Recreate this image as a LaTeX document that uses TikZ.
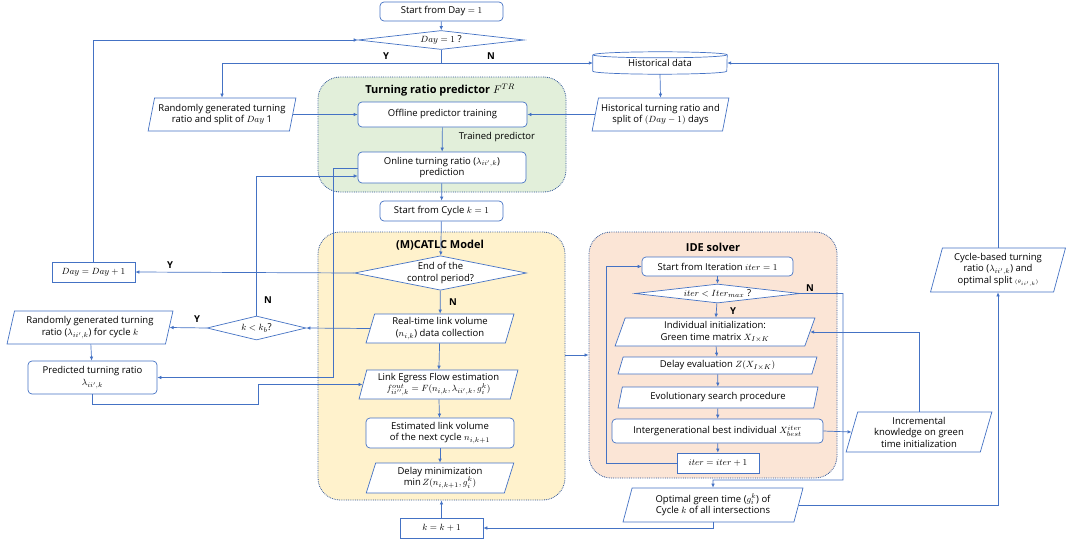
\documentclass[tikz,border=0pt]{standalone}
\usepackage{fontspec}
\setmainfont{Open Sans}
\usetikzlibrary{shapes.geometric,arrows.meta}
\definecolor{lineblue}{RGB}{68,114,196}
\definecolor{edgeblue}{RGB}{47,85,151}
\definecolor{greenbg}{RGB}{226,239,218}
\definecolor{yellowbg}{RGB}{255,242,204}
\definecolor{peachbg}{RGB}{251,229,214}
\tikzset{
  every node/.style={font=\fontsize{9.5}{11.5}\selectfont},
  wire/.style={draw=lineblue, line width=0.7pt},
  arr/.style={wire, -{Latex[length=4pt,width=3.6pt]}},
  box/.style={draw=lineblue, fill=white, line width=0.7pt, align=center, inner sep=1pt},
  rbox/.style={box, rounded corners=4pt},
  para/.style={box, trapezium, trapezium left angle=75, trapezium right angle=105, trapezium stretches=true},
  decide/.style={box, diamond, inner sep=0pt},
  region/.style={draw=edgeblue, densely dotted, line width=0.8pt, rounded corners=22pt},
  title/.style={font=\fontsize{11}{13}\selectfont\bfseries},
  yn/.style={font=\fontsize{9.5}{11}\selectfont\bfseries}
}
\begin{document}
\begin{tikzpicture}[x=1pt, y=-1pt]
\useasboundingbox (0,0) rectangle (1067,543);
% regions
\node[region, fill=greenbg, minimum width=248, minimum height=115] (predictor) at (442,134.5) {};
\node[region, fill=yellowbg, minimum width=247, minimum height=268] (catlc) at (441.5,366) {};
\node[region, fill=peachbg, minimum width=248, minimum height=246] (ide) at (713,355) {};
\node[title] (predtitle) at (440,90) {Turning ratio predictor $F^{TR}$};
\node[title] (catlctitle) at (440,245) {(M)CATLC Model};
\node[title] (idetitle) at (713,247) {IDE solver};
%
% day loop
\node[rbox, minimum width=123, minimum height=19] (start) at (441.5,11.5) {Start from Day $=1$};
\node[decide, aspect=8, minimum width=166, minimum height=19] (dayq) at (441,40) {$Day=1$ ?};
\coordinate (dayfork) at (441,63);
\node[minimum width=134, minimum height=22, inner sep=0pt] (hist) at (660,63) {Historical data};
\draw[wire] ([yshift=-3pt]hist.north west) -- ([yshift=3pt]hist.south west)
  arc[start angle=180, end angle=360, x radius=67pt, y radius=3pt] -- ([yshift=-3pt]hist.north east)
  arc[start angle=0, end angle=180, x radius=67pt, y radius=3pt];
\draw[wire] ([yshift=-3pt]hist.north west) arc[start angle=180, end angle=360, x radius=67pt, y radius=3pt];
\node[para, minimum width=137, minimum height=33] (histsplit) at (660.5,114.5) {Historical turning ratio and\\ split of $(Day-1)$ days};
\node[para, minimum width=148, minimum height=33] (randday) at (222,114.5) {Randomly generated turning\\ ratio and split of $Day$ 1};
\node[rbox, minimum width=169, minimum height=25] (offline) at (442.5,114.5) {Offline predictor training};
\node[rbox, minimum width=168, minimum height=31] (online) at (442,167.5) {Online turning ratio ($\lambda_{ii',k}$)\\ prediction};
\node (trained) at (497,137) {Trained predictor};
\node[rbox, minimum width=123, minimum height=20] (cycle) at (441.5,211) {Start from Cycle $k=1$};
%
% cycle loop
\node[decide, aspect=5, minimum width=165, minimum height=32] (endq) at (440.5,273) {End of the\\ control period?};
\node[box, minimum width=83, minimum height=20] (dayinc) at (93.5,272) {$Day=Day+1$};
\node[decide, aspect=4, minimum width=99, minimum height=24] (kq) at (256.5,328) {$k<k_b$?};
\node[para, minimum width=166, minimum height=33] (randcyc) at (90,327.5) {Randomly generated turning\\ ratio ($\lambda_{ii',k}$) for cycle $k$};
\node[rbox, minimum width=129, minimum height=33] (predtr) at (92.5,377.5) {Predicted turning ratio\\ $\lambda_{ii',k}$};
\node[para, minimum width=148, minimum height=29] (realtime) at (440,328.5) {Real-time link volume\\ ($n_{i,k}$) data collection};
\node[para, minimum width=159, minimum height=29] (egress) at (438.5,384.5) {Link Egress Flow estimation\\ $f^{out}_{ii'',k}=F(n_{i,k},\lambda_{ii',k},g_i^k)$};
\node[rbox, minimum width=148, minimum height=30] (estvol) at (440,433) {Estimated link volume\\ of the next cycle $n_{i,k+1}$};
\node[para, minimum width=148, minimum height=30] (delaymin) at (440,478) {Delay minimization\\ $\min Z(n_{i,k+1},g_i^k)$};
\node[box, minimum width=83, minimum height=20] (kinc) at (441.5,528) {$k=k+1$};
%
% solver
\node[rbox, minimum width=151, minimum height=19] (iterstart) at (717.5,266.5) {Start from Iteration $iter=1$};
\node[decide, aspect=8, minimum width=165, minimum height=19] (iterq) at (717.5,293.5) {$iter<Iter_{max}$ ?};
\node[para, minimum width=200, minimum height=28] (indiv) at (715,332) {Individual initialization:\\ Green time matrix $X_{I\times K}$};
\node[para, minimum width=199, minimum height=17] (delayev) at (717.5,365.5) {Delay evaluation $Z(X_{I\times K})$};
\node[para, minimum width=200, minimum height=21] (evo) at (718,397.5) {Evolutionary search procedure};
\node[rbox, minimum width=211, minimum height=24] (best) at (717.5,431) {Intergenerational best individual $X^{iter}_{best}$};
\node[box, minimum width=82, minimum height=20] (iterinc) at (718,463) {$iter=iter+1$};
\node[para, minimum width=146, minimum height=40] (incr) at (919,432) {Incremental\\ knowledge on green\\ time initialization};
\node[para, minimum width=180, minimum height=34] (optimal) at (713,505) {Optimal green time ($g_i^k$) of\\ Cycle $k$ of all intersections};
\node[para, minimum width=135, minimum height=44] (cycsplit) at (998,270) {Cycle-based turning\\ ratio ($\lambda_{ii',k}$) and\\ optimal split {\tiny$(\theta_{ii',k})$}};
%
% labels
\node[yn] (y1) at (386,56) {Y};
\node[yn] (n1) at (491,56) {N};
\node[yn] (y2) at (170,265) {Y};
\node[yn] (n2) at (453,302) {N};
\node[yn] (n3) at (268,300) {N};
\node[yn] (y3) at (197,319) {Y};
\node[yn] (n4) at (810,288) {N};
\node[yn] (y4) at (733,311) {Y};
%
% connectors
\draw[arr] (start) -- (dayq);
\draw[arr] (dayinc.north) |- (dayq.west);
\draw[wire] (dayq.south) -- (dayfork);
\draw[arr] (dayfork) -| (randday.north);
\draw[arr] (dayfork) -- (hist.west);
\draw[arr] (hist.south) -- (histsplit.north);
\draw[arr] (histsplit.west) -- (offline.east);
\draw[arr] (randday.east) -- (offline.west);
\draw[arr] (offline) -- (online);
\draw[arr] (online) -- (cycle);
\draw[arr] (cycle) -- (endq);
\draw[arr] (endq) -- (realtime);
\draw[arr] (endq.west) -- (dayinc.east);
\draw[arr] (realtime) -- (egress);
\draw[arr] (egress) -- (estvol);
\draw[arr] (estvol) -- (delaymin);
\draw[arr] (kinc.north) -- (kinc.north |- catlc.south);
\draw[arr] (realtime.west) -- (kq.east);
\draw[arr] (kq.west) -- (randcyc.east);
\draw[arr] (kq.north) |- (online.west |- 0,176);
\draw[arr] (randcyc) -- (predtr);
\draw[arr] (online.west |- 0,168) -| (333,377.5) -- (predtr.east);
\draw[arr] (predtr.south) |- (258,404) |- (egress.west);
\draw[arr] (catlc.east |- 0,355) -- (ide.west |- 0,355);
\draw[arr] (iterstart) -- (iterq);
\draw[arr] (iterq) -- (indiv);
\draw[arr] (indiv) -- (delayev);
\draw[arr] (delayev) -- (evo);
\draw[arr] (evo) -- (best);
\draw[arr] (best) -- (iterinc);
\draw[arr] (iterinc.west) -- (606,463) |- (iterstart.west);
\draw[arr] (iterq.east) -- (843,293.5) |- (713,480) -- (optimal.north);
\draw[arr] (best.east) -- (incr.west);
\draw[arr] (incr.north) |- (indiv.east);
\draw[arr] (optimal.south) |- (kinc.east);
\draw[arr] (optimal.east) -| (cycsplit.south);
\draw[arr] (cycsplit.north) |- (hist.east);
\end{tikzpicture}
\end{document}
